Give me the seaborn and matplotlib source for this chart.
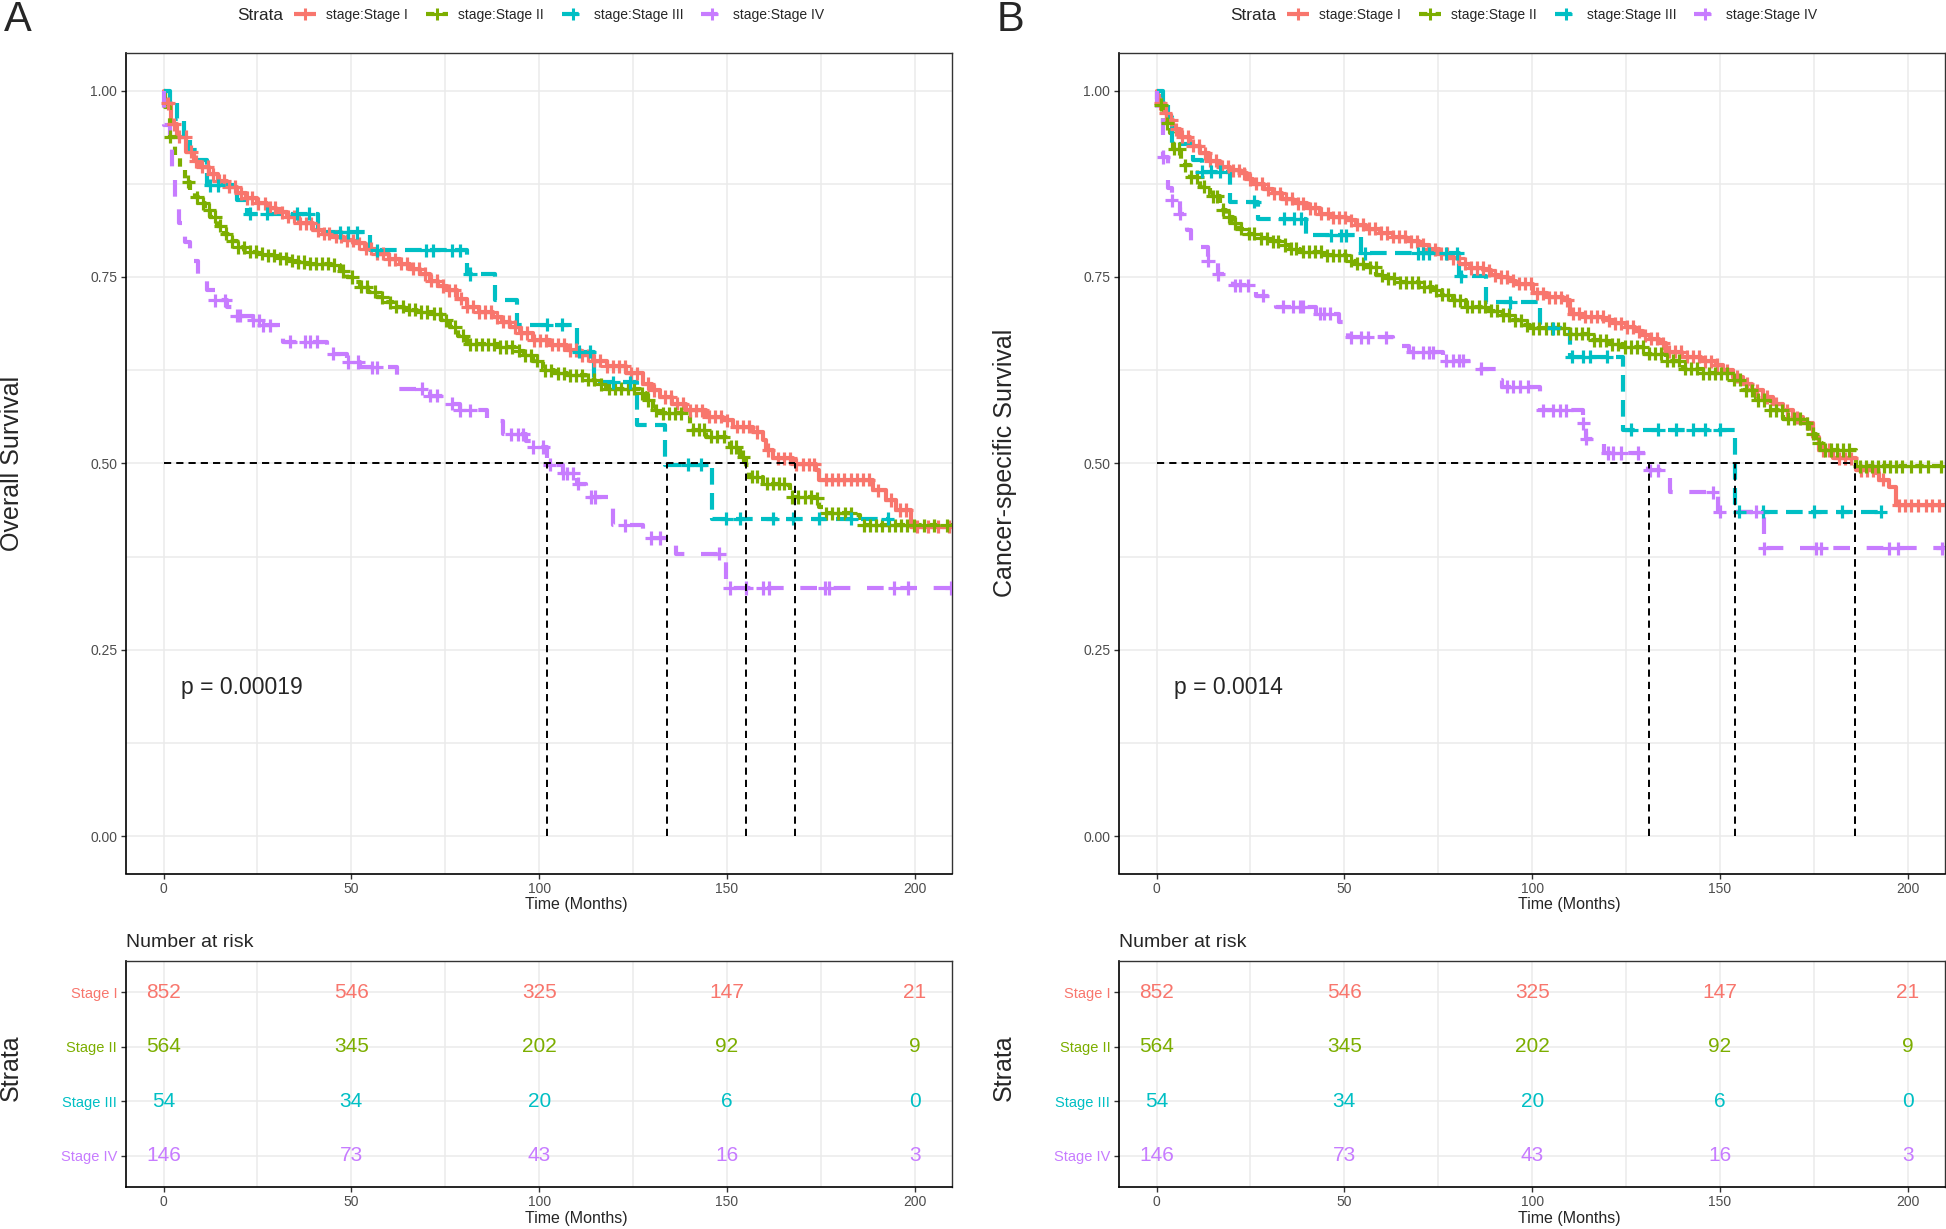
import numpy as np
import pandas as pd
import matplotlib
matplotlib.use("Agg")
import matplotlib.pyplot as plt
from matplotlib.lines import Line2D
import seaborn as sns

stages = ["Stage I", "Stage II", "Stage III", "Stage IV"]
colors = ["#F8766D", "#7CAE00", "#00BFC4", "#C77CFF"]
dash_styles = ["", (2, 2), (4, 2), (4, 4)]

# ---- panel A : overall survival (step points) ----
a1_t = [0, 0.5, 2, 3.5, 6, 8, 9.8, 12, 14.5, 16.8, 19.5, 22, 24.8, 27.5, 30, 32.8, 36, 39.9, 42.5, 45.2,
        48, 50.5, 53.5, 56.7, 60, 62.9, 65.5, 68.3, 71, 73, 75.4, 78, 80.7, 84, 87.8, 90, 92.2, 95, 98.4,
        103, 107.3, 111, 114.4, 118, 123.2, 127.7, 130, 132.1, 135.5, 139.2, 144.5, 148.9, 151.6, 156.9,
        159.6, 160.5, 162.2, 167.6, 173.8, 174.6, 188.8, 192.4, 195, 199]
a1_s = [1.0, 0.983, 0.955, 0.938, 0.918, 0.905, 0.898, 0.888, 0.879, 0.871, 0.862, 0.856, 0.849, 0.843,
        0.837, 0.831, 0.822, 0.813, 0.808, 0.804, 0.799, 0.795, 0.788, 0.781, 0.774, 0.768, 0.761, 0.754,
        0.745, 0.738, 0.732, 0.721, 0.710, 0.703, 0.696, 0.690, 0.683, 0.675, 0.665, 0.659, 0.652, 0.645,
        0.638, 0.630, 0.621, 0.607, 0.598, 0.589, 0.580, 0.571, 0.5625, 0.558, 0.549, 0.542, 0.531, 0.518,
        0.507, 0.499, 0.491, 0.478, 0.464, 0.451, 0.4375, 0.415]
a2_t = [0, 0.3, 1.8, 3, 4.4, 5.8, 7.1, 8.5, 9.8, 11, 12.4, 14.2, 16, 17.8, 19.5, 21.5, 23, 25, 27.5, 30,
        32.8, 35.5, 38.1, 45.2, 47, 48.8, 50.5, 52.3, 54.5, 56.7, 59, 61.2, 64, 67.4, 71.8, 74, 76.2, 78.5,
        80.7, 89.5, 94, 96, 98.4, 101.1, 104, 107.3, 112.6, 115, 117.9, 126.8, 128.5, 130.3, 132.1, 138.3,
        140.1, 144.5, 149.8, 150.7, 153.4, 155.1, 156, 159.6, 165.8, 166.7, 173.8, 174.6, 175.5, 184.4, 185.3]
a2_s = [1.0, 0.978, 0.938, 0.912, 0.893, 0.878, 0.866, 0.857, 0.849, 0.840, 0.831, 0.819, 0.808, 0.798,
        0.790, 0.786, 0.784, 0.781, 0.779, 0.775, 0.772, 0.770, 0.768, 0.766, 0.758, 0.750, 0.743, 0.737,
        0.730, 0.723, 0.716, 0.710, 0.706, 0.703, 0.701, 0.692, 0.683, 0.671, 0.660, 0.656, 0.651, 0.645,
        0.638, 0.625, 0.621, 0.618, 0.612, 0.606, 0.600, 0.594, 0.585, 0.571, 0.567, 0.565, 0.545, 0.536,
        0.533, 0.522, 0.509, 0.498, 0.482, 0.473, 0.471, 0.455, 0.453, 0.442, 0.433, 0.431, 0.417]
a3_t = [0, 1.8, 3.5, 5.5, 7, 8.9, 11.5, 19.5, 22.2, 41, 55, 80.7, 88.2, 94, 110, 114.5, 126, 133.5, 146]
a3_s = [1.0, 0.983, 0.962, 0.940, 0.920, 0.907, 0.873, 0.853, 0.835, 0.810, 0.786, 0.754, 0.719, 0.686,
        0.650, 0.609, 0.551, 0.498, 0.426]
a4_t = [0, 0.2, 1.8, 2.2, 3.1, 4.0, 5.8, 7.1, 9.3, 11.5, 13.7, 16.8, 19.5, 23.9, 26.6, 31.9, 43.4, 48.8,
        52.3, 62.1, 70.9, 76.2, 78.9, 86, 90.4, 96.6, 98.4, 102, 106.4, 110, 112.6, 119.7, 127.7, 136.5, 149.8]
a4_s = [1.0, 0.954, 0.922, 0.891, 0.857, 0.822, 0.797, 0.772, 0.748, 0.732, 0.719, 0.710, 0.698, 0.692,
        0.685, 0.663, 0.647, 0.636, 0.629, 0.600, 0.591, 0.580, 0.571, 0.557, 0.539, 0.530, 0.522, 0.498,
        0.487, 0.473, 0.455, 0.417, 0.400, 0.379, 0.333]
a_end = [210, 210, 193.3, 210]

# censoring times (+ marks)
a1_c = [1.2, 2.8, 4.1, 5.9, 7.4, 8.6, 10.3, 11.8, 13.1, 14.7, 16.2, 17.4, 19.1, 20.6, 22.3, 23.5, 25.2,
        26.9, 28.4, 29.8, 31.5, 33.2, 34.6, 36.3, 37.9, 39.2, 41.0, 42.6, 44.1, 45.8, 47.3, 48.9, 50.4, 52.1,
        53.8, 55.2, 56.9, 58.3, 60.1, 61.7, 63.2, 64.8, 66.5, 68.0, 69.6, 71.3, 72.8, 74.4, 76.1, 77.5, 79.2,
        80.9, 82.4, 84.1, 85.6, 87.3, 88.9, 90.4, 92.0, 93.7, 95.3, 96.8, 98.5, 100.1, 101.8, 103.4, 105.0,
        106.6, 108.2, 109.9, 111.5, 113.0, 114.7, 116.3, 118.0, 119.6, 121.2, 122.8, 124.5, 126.1, 129.0,
        130.6, 133.4, 135.0, 136.7, 138.2, 140.1, 141.8, 143.4, 145.2, 146.9, 148.3, 150.1, 152.6, 154.2,
        155.8, 158.1, 161.0, 163.5, 165.1, 166.8, 168.5, 170.2, 171.9, 173.2, 176.3, 177.9, 179.6, 181.2,
        182.9, 184.5, 186.1, 187.7, 190.2, 193.6, 196.2, 197.8, 200.6, 203.4, 206.1, 209.0]
a2_c = [1.8, 6.6, 8.9, 10.5, 12.2, 13.8, 15.1, 16.7, 18.3, 19.9, 21.4, 23.0, 24.6, 26.3, 27.8, 29.5, 31.1,
        32.6, 34.2, 35.9, 37.4, 39.0, 40.6, 42.3, 43.8, 45.5, 47.9, 50.2, 52.5, 54.1, 56.4, 58.2, 60.3, 62.0,
        63.7, 65.3, 67.0, 68.6, 70.2, 71.9, 73.5, 75.3, 77.6, 79.8, 81.5, 83.1, 84.8, 86.4, 88.0, 89.7, 91.3,
        92.9, 94.6, 96.2, 97.9, 99.5, 101.6, 103.2, 104.9, 106.5, 108.1, 109.8, 111.4, 113.1, 114.7, 116.4,
        118.6, 120.3, 121.9, 123.6, 125.2, 127.4, 129.1, 131.2, 132.9, 134.5, 136.2, 137.8, 140.9, 142.5,
        143.9, 145.8, 147.4, 149.1, 151.2, 152.5, 154.3, 156.8, 158.0, 160.6, 162.3, 163.9, 165.3, 167.4,
        169.0, 170.7, 172.4, 174.1, 176.4, 178.0, 179.7, 181.3, 183.0, 186.5, 188.1, 189.8, 191.4, 193.1,
        194.7, 196.4, 198.0, 199.7, 202.5, 205.1, 208.6]
a3_c = [12.4, 14.6, 23.0, 27.5, 35.5, 38.6, 47.0, 49.2, 51.4, 56.7, 70.0, 71.8, 76.7, 78.9, 81.6, 102.0,
        106.0, 110.5, 113.5, 119.7, 124.1, 139.6, 143.2, 149.8, 153.4, 162.2, 167.6, 174.6, 183.1, 192.8]
a4_c = [13.7, 16.4, 19.5, 20.4, 23.9, 25.3, 26.6, 28.4, 33.7, 37.7, 39.0, 40.8, 45.2, 49.2, 51.9, 55.4,
        56.7, 68.7, 70.9, 72.7, 76.7, 78.9, 81.6, 92.6, 94.4, 95.7, 98.4, 101.1, 102.8, 106.4, 107.3, 109.0,
        110.4, 113.9, 114.8, 122.8, 129.9, 132.1, 148.0, 150.7, 155.1, 159.6, 161.3, 176.0, 177.3, 194.6,
        198.1, 209.7]
a_medians = [168, 155, 134, 102]

# ---- panel B : cancer-specific survival ----
b1_t = [0, 0.3, 0.9, 2, 2.7, 4.5, 6.2, 9, 11.5, 14, 16.8, 19.5, 22.1, 24, 25.7, 28.5, 31, 33.5, 36.3, 40,
        43.4, 47, 50.5, 53, 55.8, 59.5, 62.9, 66.5, 70, 72.5, 75.3, 78, 80.6, 83.5, 87, 89, 91.2, 93.5, 95.8,
        100.3, 104, 108.2, 110, 114, 118.9, 122, 125.1, 127.5, 129.5, 131.5, 133.9, 135.7, 140, 145, 149,
        150.8, 153.5, 156.1, 158.5, 161.4, 164, 166.7, 169.5, 172, 174.7, 176.4, 180, 186.2, 191.5, 192.4,
        195, 196.8]
b1_s = [1.0, 0.993, 0.983, 0.970, 0.961, 0.948, 0.938, 0.926, 0.916, 0.906, 0.898, 0.893, 0.889, 0.881,
        0.875, 0.868, 0.862, 0.855, 0.849, 0.842, 0.835, 0.830, 0.826, 0.820, 0.815, 0.809, 0.804, 0.798,
        0.793, 0.787, 0.781, 0.775, 0.768, 0.762, 0.759, 0.752, 0.750, 0.745, 0.741, 0.728, 0.723, 0.719,
        0.701, 0.697, 0.692, 0.688, 0.683, 0.677, 0.672, 0.667, 0.661, 0.650, 0.643, 0.637, 0.632, 0.625,
        0.616, 0.607, 0.598, 0.589, 0.580, 0.571, 0.562, 0.554, 0.536, 0.518, 0.507, 0.491, 0.487, 0.478,
        0.469, 0.444]
b2_t = [0, 0.2, 1.8, 3.5, 4.4, 6.6, 8.9, 11.5, 14.2, 16.8, 18.5, 20.4, 22, 23.9, 27.5, 30, 32.8, 35.5,
        38.1, 45.2, 50.5, 53, 55.8, 58.5, 61, 63.8, 70, 73.5, 76, 78.8, 82.4, 87.7, 91.4, 94.5, 97.6, 100.3,
        110, 115.3, 120, 124.2, 129.5, 135.7, 140.1, 145.4, 153.4, 156.1, 159.6, 163.2, 166.7, 172, 173.8,
        175.6, 177.3, 186.2]
b2_s = [1.0, 0.981, 0.956, 0.943, 0.922, 0.900, 0.884, 0.871, 0.858, 0.840, 0.831, 0.822, 0.815, 0.808,
        0.802, 0.798, 0.793, 0.788, 0.784, 0.779, 0.772, 0.768, 0.763, 0.752, 0.748, 0.743, 0.737, 0.732,
        0.726, 0.719, 0.710, 0.705, 0.699, 0.692, 0.685, 0.681, 0.674, 0.665, 0.660, 0.656, 0.647, 0.638,
        0.627, 0.621, 0.612, 0.598, 0.585, 0.571, 0.560, 0.554, 0.540, 0.527, 0.518, 0.496]
b3_t = [0, 1.8, 3.1, 4, 9.7, 12, 19.5, 27, 39.9, 54.5, 80.6, 87.8, 102, 110, 124.2, 153.9]
b3_s = [1.0, 0.983, 0.965, 0.929, 0.907, 0.891, 0.851, 0.828, 0.806, 0.782, 0.751, 0.716, 0.681, 0.643,
        0.545, 0.435]
b4_t = [0, 0.2, 1.8, 3.1, 4.0, 6.2, 8.0, 9.3, 13.7, 16.4, 20.4, 26.6, 31.9, 42.5, 48.7, 50.9, 62.9, 67.3,
        76.2, 85.9, 90.3, 92, 102, 113.6, 114.4, 119, 130.8, 136.6, 149.5, 161.8]
b4_s = [1.0, 0.970, 0.911, 0.870, 0.853, 0.835, 0.813, 0.790, 0.772, 0.754, 0.739, 0.725, 0.710, 0.701,
        0.690, 0.669, 0.658, 0.649, 0.638, 0.627, 0.612, 0.603, 0.571, 0.554, 0.533, 0.514, 0.491, 0.461,
        0.435, 0.386]
b_end = [210, 210, 193.3, 210]

b1_c = [1.0, 2.4, 3.9, 5.2, 6.8, 8.3, 9.7, 11.2, 12.9, 14.3, 15.8, 17.5, 18.9, 20.4, 22.0, 23.3, 25.0,
        26.6, 28.0, 29.7, 31.3, 32.8, 34.5, 36.0, 37.6, 39.1, 40.8, 42.3, 43.9, 45.6, 47.1, 48.7, 50.2, 51.9,
        53.4, 55.0, 56.6, 58.1, 59.8, 61.4, 62.9, 64.5, 66.2, 67.7, 69.3, 70.9, 72.5, 74.1, 75.6, 77.3, 78.9,
        80.4, 82.0, 83.7, 85.2, 86.8, 88.5, 90.1, 91.6, 93.2, 94.9, 96.4, 98.0, 99.7, 101.3, 102.8, 104.5,
        106.1, 107.6, 109.3, 110.9, 112.4, 114.0, 115.7, 117.2, 118.8, 120.5, 122.1, 123.6, 125.3, 126.8,
        128.4, 130.1, 131.6, 133.2, 134.9, 136.5, 138.0, 139.7, 141.3, 142.8, 144.4, 146.1, 147.7, 149.3,
        152.0, 154.6, 157.3, 159.9, 162.5, 165.0, 167.8, 170.4, 173.1, 177.5, 179.1, 181.8, 183.4, 185.0,
        187.6, 189.2, 190.8, 193.5, 197.6, 199.3, 201.0, 202.7, 204.8, 206.5, 208.3]
b2_c = [1.2, 2.9, 4.7, 6.0, 7.6, 9.3, 10.8, 12.6, 14.9, 16.2, 17.7, 19.3, 20.9, 22.6, 24.5, 26.0, 27.7,
        29.3, 30.9, 32.4, 34.1, 35.7, 37.2, 38.9, 40.5, 42.1, 43.7, 45.4, 47.0, 48.6, 50.1, 51.8, 53.4, 55.0,
        56.7, 58.3, 59.9, 61.5, 63.1, 64.8, 66.4, 68.0, 69.6, 71.2, 72.8, 74.5, 76.1, 77.7, 79.3, 80.9, 82.6,
        84.1, 85.8, 87.4, 89.0, 90.6, 92.2, 93.9, 95.5, 97.1, 98.7, 100.3, 101.9, 103.6, 105.2, 106.8, 108.4,
        110.0, 111.6, 113.2, 114.9, 116.5, 118.1, 119.7, 121.3, 122.9, 124.6, 126.2, 127.8, 129.4, 131.0,
        132.6, 134.3, 135.9, 137.5, 139.1, 140.7, 142.3, 144.0, 145.6, 147.2, 148.8, 150.4, 152.0, 153.7,
        155.3, 156.9, 158.5, 160.1, 161.7, 163.4, 165.0, 166.6, 168.2, 169.8, 171.4, 173.1, 174.7, 176.3,
        177.9, 179.5, 181.1, 182.8, 184.4, 187.3, 188.9, 190.5, 192.1, 193.8, 195.4, 197.0, 198.6, 200.9,
        203.2, 205.4, 208.8]
b3_c = [12.0, 14.5, 17.0, 26.0, 34.0, 36.5, 38.5, 46.5, 49.0, 50.5, 55.4, 69.5, 71.0, 72.5, 77.0, 80.0,
        81.0, 94.1, 105.6, 110.5, 113.6, 115.3, 119.8, 126.4, 133.5, 138.4, 142.8, 145.9, 149.9, 155.2,
        161.4, 175.1, 182.6, 192.8]
b4_c = [1.8, 4.0, 6.2, 13.7, 16.4, 20.8, 22.1, 24.4, 28.3, 33.7, 36.3, 38.1, 39.0, 43.4, 44.7, 46.1, 51.8,
        54.5, 56.2, 61.1, 68.2, 70.9, 72.6, 73.5, 77.1, 78.8, 80.6, 81.7, 86.5, 93.2, 95.0, 96.7, 98.9,
        102.9, 105.6, 107.4, 109.1, 113.6, 114.4, 120.2, 121.5, 123.7, 128.2, 131.3, 133.5, 148.1, 149.9,
        159.6, 161.8, 175.6, 176.9, 195.0, 197.3, 209.2]
b_medians = [186, 186, 154, 131]

# ---- number at risk ----
risk_times = [0, 50, 100, 150, 200]
risk_1 = [852, 546, 325, 147, 21]
risk_2 = [564, 345, 202, 92, 9]
risk_3 = [54, 34, 20, 6, 0]
risk_4 = [146, 73, 43, 16, 3]

sns.set_theme(style="white")
plt.rcParams["font.family"] = ["Liberation Sans", "DejaVu Sans"]

W, H = 1946, 1229
fig = plt.figure(figsize=(W / 100, H / 100), dpi=100)


def box(l, t, r, b):
    return [l / W, 1 - b / H, (r - l) / W, (b - t) / H]


def curve_frame(times, survs, ends):
    parts = []
    for st, t, s, e in zip(stages, times, survs, ends):
        parts.append(pd.DataFrame({"time": list(t) + [e], "surv": list(s) + [s[-1]], "stage": st}))
    return pd.concat(parts, ignore_index=True)


def censor_frame(times, survs, cens):
    parts = []
    for st, t, s, c in zip(stages, times, survs, cens):
        idx = np.searchsorted(np.asarray(t), np.asarray(c), side="right") - 1
        parts.append(pd.DataFrame({"time": c, "surv": np.asarray(s)[idx], "stage": st}))
    return pd.concat(parts, ignore_index=True)


def style_axes(ax):
    ax.set_xlim(-10, 210)
    ax.set_xticks([0, 50, 100, 150, 200])
    ax.set_xticks([25, 75, 125, 175], minor=True)
    ax.grid(True, which="both", color="#EBEBEB", lw=1.1)
    ax.set_axisbelow(True)
    for side in ["top", "right"]:
        ax.spines[side].set_color("#333333")
        ax.spines[side].set_linewidth(1.0)
    for side in ["left", "bottom"]:
        ax.spines[side].set_color("black")
        ax.spines[side].set_linewidth(1.2)
    ax.tick_params(which="major", direction="out", length=3.8, width=1.0, color="#333333",
                   labelcolor="#4D4D4D", labelsize=10, pad=2.5, left=True, bottom=True)
    ax.tick_params(which="minor", length=0)
    ax.set_xlabel("")
    ax.set_ylabel("")


def km_panel(ax, times, survs, ends, cens, medians, ptext):
    df = curve_frame(times, survs, ends)
    cf = censor_frame(times, survs, cens)
    sns.lineplot(data=df, x="time", y="surv", hue="stage", style="stage", palette=colors,
                 dashes=dash_styles, drawstyle="steps-post", estimator=None, sort=False,
                 legend=False, linewidth=3.0, ax=ax)
    sns.scatterplot(data=cf, x="time", y="surv", hue="stage", palette=colors, marker="+",
                    s=90, linewidth=2.3, legend=False, ax=ax, zorder=3)
    ax.hlines(0.5, 0, max(medians), colors="black", linestyles=(0, (3.7, 2.6)), lw=1.4, zorder=4)
    ax.vlines(medians, 0, 0.5, colors="black", linestyles=(0, (3.7, 2.6)), lw=1.4, zorder=4)
    ax.text(4.6, 0.2, ptext, fontsize=16.5, ha="left", va="center")
    style_axes(ax)
    ax.set_ylim(-0.05, 1.05)
    ax.set_yticks([0, 0.25, 0.5, 0.75, 1.0])
    ax.set_yticks([0.125, 0.375, 0.625, 0.875], minor=True)
    ax.set_yticklabels(["0.00", "0.25", "0.50", "0.75", "1.00"])


def risk_panel(ax):
    rows = [risk_1, risk_2, risk_3, risk_4]
    for i, (vals, col) in enumerate(zip(rows, colors)):
        for t, n in zip(risk_times, vals):
            ax.text(t, i + 1, str(n), color=col, fontsize=15, ha="center", va="center")
    style_axes(ax)
    ax.set_ylim(4.57, 0.43)
    ax.set_yticks([1, 2, 3, 4])
    ax.set_yticklabels(stages)
    ax.tick_params(axis="y", labelsize=10.5)
    for lab, col in zip(ax.get_yticklabels(), colors):
        lab.set_color(col)


panels = [
    (0, [a1_t, a2_t, a3_t, a4_t], [a1_s, a2_s, a3_s, a4_s], a_end, [a1_c, a2_c, a3_c, a4_c],
     a_medians, "p = 0.00019", "Overall Survival", "A"),
    (993, [b1_t, b2_t, b3_t, b4_t], [b1_s, b2_s, b3_s, b4_s], b_end, [b1_c, b2_c, b3_c, b4_c],
     b_medians, "p = 0.0014", "Cancer-specific Survival", "B"),
]

for dx, times, survs, ends, cens, medians, ptext, ylab, tag in panels:
    ax = fig.add_axes(box(126 + dx, 53.3, 952.3 + dx, 873.5))
    km_panel(ax, times, survs, ends, cens, medians, ptext)
    rk = fig.add_axes(box(126 + dx, 961, 952.3 + dx, 1186.7))
    risk_panel(rk)

    fig.text((4 + dx) / W, 1 - 31 / H, tag, fontsize=30, ha="left", va="baseline")
    fig.text((12 + dx) / W, 1 - 463 / H, ylab, fontsize=18, rotation=90, ha="center", va="center")
    fig.text((576 + dx) / W, 1 - 905 / H, "Time (Months)", fontsize=11.5, ha="center", va="center")
    fig.text((576 + dx) / W, 1 - 1218 / H, "Time (Months)", fontsize=11.5, ha="center", va="center")
    fig.text((126 + dx) / W, 1 - 946.7 / H, "Number at risk", fontsize=14, ha="left", va="baseline")
    fig.text((11 + dx) / W, 1 - 1068 / H, "Strata", fontsize=18, rotation=90, ha="center", va="center")

    # legend on top
    fig.text((236.7 + dx) / W, 1 - 15 / H, "Strata", fontsize=12.4, ha="left", va="center")
    handles = [Line2D([0], [0], color=c, lw=3.0, dashes=(d if d else (1, 0)), marker="+",
                      markersize=8.5, markeredgewidth=2.2) for c, d in zip(colors, dash_styles)]
    fig.legend(handles, ["stage:" + s for s in stages], loc="center left",
               bbox_to_anchor=((294 + dx) / W, 1 - 15 / H), ncol=4, frameon=False, fontsize=10,
               handlelength=1.6, handletextpad=0.7, columnspacing=1.3, borderpad=0, borderaxespad=0)

fig.savefig("out.png", dpi=100)
